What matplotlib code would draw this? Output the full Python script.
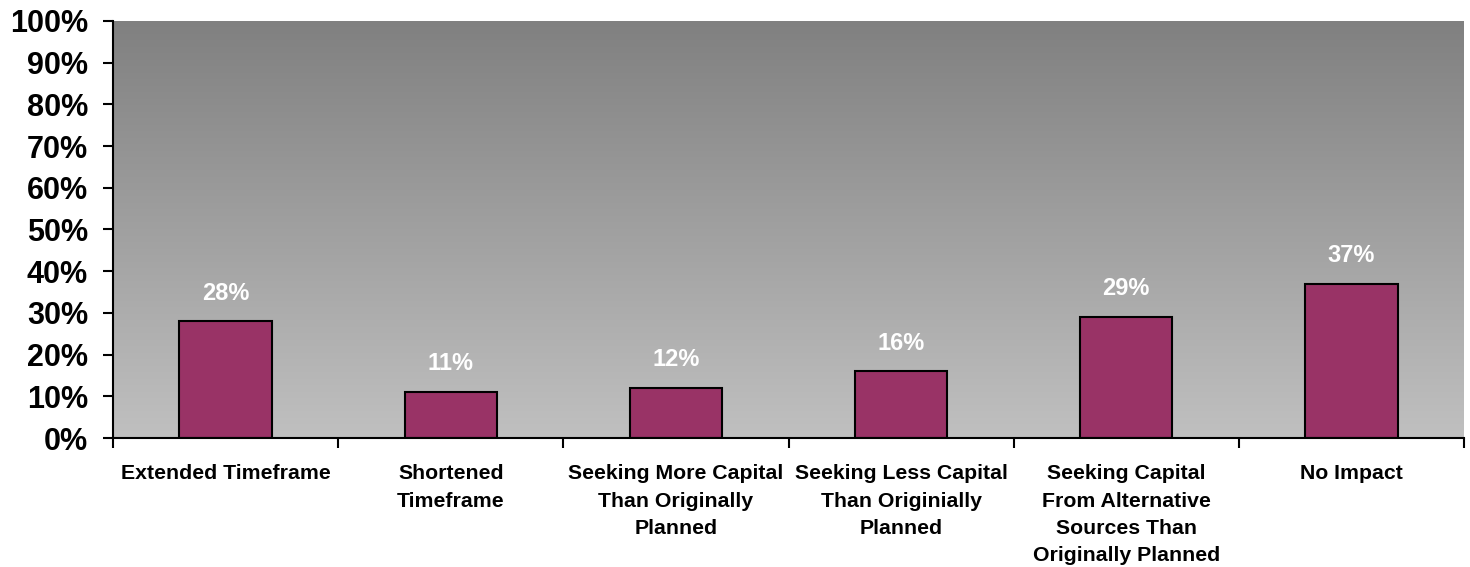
import numpy as np
import matplotlib
matplotlib.use("Agg")
import matplotlib.pyplot as plt
from matplotlib.colors import LinearSegmentedColormap
from matplotlib.ticker import PercentFormatter

plt.rcParams['font.family'] = ['Liberation Sans', 'DejaVu Sans']
plt.rcParams['font.weight'] = 'bold'

categories = [
    "Extended Timeframe",
    "Shortened\nTimeframe",
    "Seeking More Capital\nThan Originally\nPlanned",
    "Seeking Less Capital\nThan Originially\nPlanned",
    "Seeking Capital\nFrom Alternative\nSources Than\nOriginally Planned",
    "No Impact",
]
values = [28, 11, 12, 16, 29, 37]

fig = plt.figure(figsize=(14.7, 5.67), dpi=100)
ax = fig.add_axes([0.0769, 0.2275, 0.919, 0.7355])

x = np.arange(len(categories))
ax.set_xlim(-0.5, len(categories) - 0.5)
ax.set_ylim(0, 100)

# grey vertical gradient behind the bars
grad = np.linspace(0, 1, 256).reshape(-1, 1)
cmap = LinearSegmentedColormap.from_list("bg", ["#c0c0c0", "#808080"])
ax.imshow(grad, cmap=cmap, aspect="auto", origin="lower",
          extent=[-0.5, len(categories) - 0.5, 0, 100], zorder=0)

bars = ax.bar(x, values, width=0.41, color="#993366", edgecolor="black",
              linewidth=1.5, zorder=2)

for b, v in zip(bars, values):
    ax.annotate(f"{v}%", (b.get_x() + b.get_width() / 2, v),
                xytext=(0, 12), textcoords="offset points",
                ha="center", va="bottom", color="white",
                fontsize=17, fontweight="bold")

ax.yaxis.set_major_formatter(PercentFormatter(decimals=0))
ax.set_yticks(range(0, 101, 10))
ax.tick_params(axis="y", labelsize=22, length=7, width=1.5, direction="out", pad=11)

ax.set_xticks(x)
ax.set_xticklabels(categories, fontsize=15.3, fontweight="bold", linespacing=1.55)
ax.set_xticks(np.arange(-0.5, len(categories)), minor=True)
ax.tick_params(axis="x", which="major", length=0, pad=19)
ax.tick_params(axis="x", which="minor", length=7, width=1.5, direction="out")

for s in ["top", "right"]:
    ax.spines[s].set_visible(False)
for s in ["left", "bottom"]:
    ax.spines[s].set_linewidth(1.5)
    ax.spines[s].set_zorder(3)

fig.savefig("out.png", dpi=100)
